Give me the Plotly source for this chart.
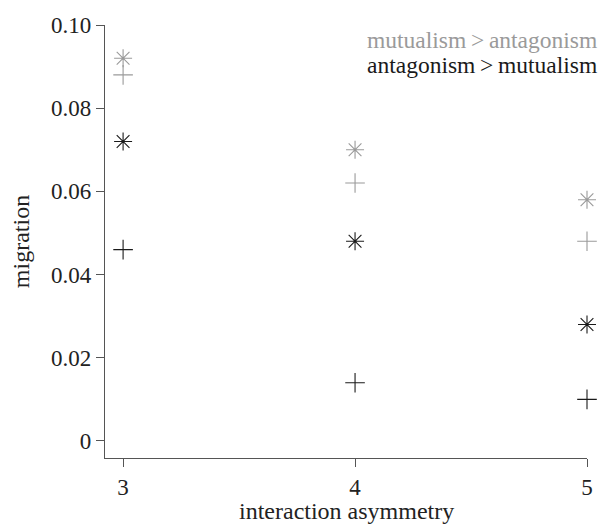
import plotly.graph_objects as go

asym = [3, 4, 5]
mut_star = [0.092, 0.070, 0.058]
mut_plus = [0.088, 0.062, 0.048]
ant_star = [0.072, 0.048, 0.028]
ant_plus = [0.046, 0.014, 0.010]
y_ticks = [0, 0.02, 0.04, 0.06, 0.08, 0.10]
y_labels = ["0", "0.02", "0.04", "0.06", "0.08", "0.10"]

GRAY = "#9a9a9a"
BLACK = "#1a1a1a"
FONT = "Liberation Serif"

fig = go.Figure()

def add(y, sym, color, size):
    fig.add_trace(go.Scatter(
        x=asym, y=y, mode="markers", cliponaxis=False, showlegend=False,
        marker=dict(symbol=sym, size=size, color=color,
                    line=dict(color=color, width=1.1)),
    ))

add(mut_star, "asterisk-open", GRAY, 15)
add(mut_plus, "cross-thin-open", GRAY, 14)
add(ant_star, "asterisk-open", BLACK, 15)
add(ant_plus, "cross-thin-open", BLACK, 14)

fig.update_layout(
    width=601, height=524,
    margin=dict(l=105, r=14, t=25, b=66),
    plot_bgcolor="white", paper_bgcolor="white",
    font=dict(family=FONT, size=23, color="#222"),
)
fig.add_annotation(text="mutualism\u2009>\u2009antagonism", xref="paper", yref="paper",
                   x=1.025, y=0.966, xanchor="right", yanchor="middle",
                   showarrow=False, font=dict(family=FONT, size=23.5, color=GRAY))
fig.add_annotation(text="antagonism\u2009>\u2009mutualism", xref="paper", yref="paper",
                   x=1.025, y=0.908, xanchor="right", yanchor="middle",
                   showarrow=False, font=dict(family=FONT, size=23.5, color=BLACK))
fig.add_annotation(text="interaction asymmetry", xref="paper", yref="paper",
                   x=0.5, y=-0.122, xanchor="center", yanchor="middle",
                   showarrow=False, font=dict(family=FONT, size=24, color="#222"))

fig.update_xaxes(
    range=[2.922, 5.0], tickvals=asym, ticktext=[str(v) for v in asym],
    automargin=False,
    showline=True, linecolor="#555", linewidth=1.2, showgrid=False, zeroline=False,
    ticks="outside", ticklen=8, tickcolor="#555", tickwidth=1.2, ticklabelstandoff=0,
    tickfont=dict(family=FONT, size=23, color="#222"),
)
fig.update_yaxes(
    range=[-0.0041, 0.10], tickvals=y_ticks, ticktext=y_labels,
    automargin=False,
    showline=True, linecolor="#555", linewidth=1.2, showgrid=False, zeroline=False,
    ticks="outside", ticklen=8, tickcolor="#555", tickwidth=1.2,
    tickfont=dict(family=FONT, size=23, color="#222"),
    title=dict(text="migration", font=dict(family=FONT, size=24, color="#222"), standoff=14),
)

fig.write_html("out.html")
